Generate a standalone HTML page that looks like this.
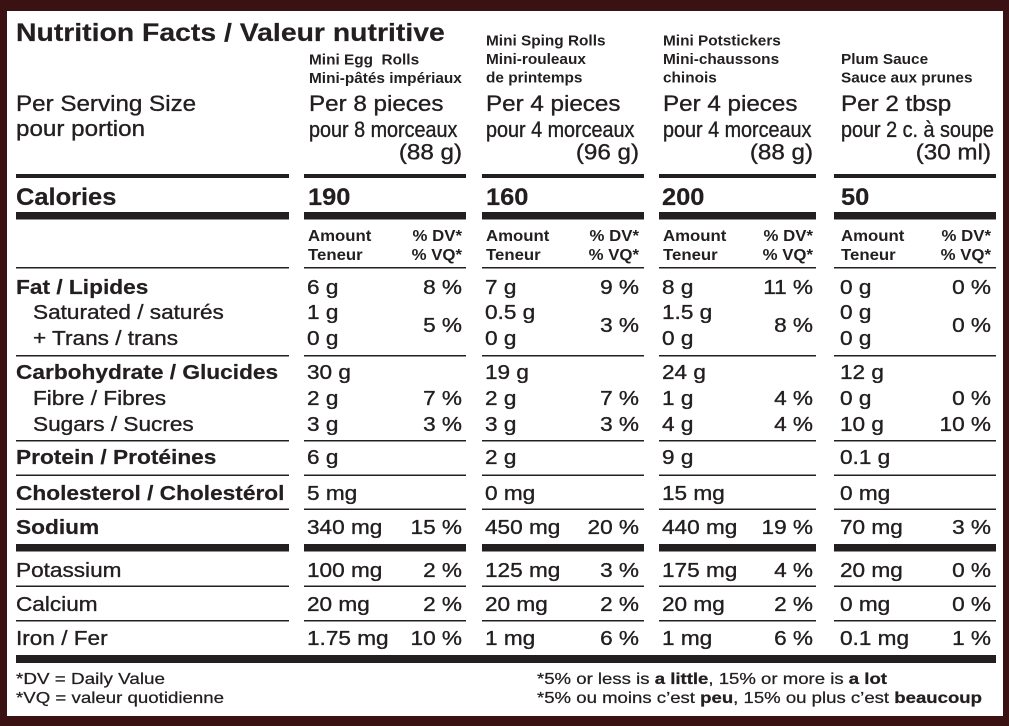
<!DOCTYPE html>
<html><head><meta charset="utf-8"><style>
html,body{margin:0;padding:0;background:#3a1214;}
svg{display:block}
text{font-family:"Liberation Sans",Arial,sans-serif;fill:#231f20;white-space:pre}
.t{font-size:25px;font-weight:bold;stroke:#231f20;stroke-width:0.2}
.h{font-size:14.5px;font-weight:bold}
.p{font-size:22px;stroke:#231f20;stroke-width:0.35}
.c{font-size:24px;font-weight:bold;stroke:#231f20;stroke-width:0.2}
.a{font-size:16px;font-weight:bold}
.lb{font-size:20px;font-weight:bold;stroke:#231f20;stroke-width:0.2}
.r{font-size:20px;stroke:#231f20;stroke-width:0.35}
.f{font-size:16px;stroke:#231f20;stroke-width:0.25}
.e{text-anchor:end}
</style></head><body>
<svg width="1009" height="726" viewBox="0 0 1009 726" xmlns="http://www.w3.org/2000/svg">
<rect x="0" y="0" width="1009" height="726" fill="#3a1214"/>
<rect x="7" y="11" width="996" height="705" fill="#ffffff"/>

<!-- Title -->
<text class="t" transform="translate(16,41) scale(1.135,1)">Nutrition Facts / Valeur nutritive</text>

<!-- Column names -->
<text class="h" transform="translate(309,64.5) scale(1.06,1)">Mini Egg  Rolls</text>
<text class="h" transform="translate(309,83) scale(1.06,1)">Mini-pâtés impériaux</text>
<text class="h" transform="translate(486,45.5) scale(1.06,1)">Mini Sping Rolls</text>
<text class="h" transform="translate(486,64) scale(1.06,1)">Mini-rouleaux</text>
<text class="h" transform="translate(486,82.5) scale(1.06,1)">de printemps</text>
<text class="h" transform="translate(663,45.5) scale(1.06,1)">Mini Potstickers</text>
<text class="h" transform="translate(663,64) scale(1.06,1)">Mini-chaussons</text>
<text class="h" transform="translate(663,82.5) scale(1.06,1)">chinois</text>
<text class="h" transform="translate(841,64) scale(1.06,1)">Plum Sauce</text>
<text class="h" transform="translate(841,82.5) scale(1.06,1)">Sauce aux prunes</text>

<!-- Serving -->
<text class="p" transform="translate(16,111) scale(1.1,1)">Per Serving Size</text>
<text class="p" transform="translate(16,136) scale(1.1,1)">pour portion</text>

<text class="p" transform="translate(309,111) scale(1.1,1)">Per 8 pieces</text>
<text class="p" transform="translate(309,137) scale(0.9,1)">pour 8 morceaux</text>
<text class="p e" transform="translate(462,159.5) scale(1.1,1)">(88 g)</text>

<text class="p" transform="translate(486,111) scale(1.1,1)">Per 4 pieces</text>
<text class="p" transform="translate(486,137) scale(0.9,1)">pour 4 morceaux</text>
<text class="p e" transform="translate(639,159.5) scale(1.1,1)">(96 g)</text>

<text class="p" transform="translate(663,111) scale(1.1,1)">Per 4 pieces</text>
<text class="p" transform="translate(663,137) scale(0.9,1)">pour 4 morceaux</text>
<text class="p e" transform="translate(813,159.5) scale(1.1,1)">(88 g)</text>

<text class="p" transform="translate(841,111) scale(1.1,1)">Per 2 tbsp</text>
<text class="p" transform="translate(841,137) scale(0.9,1)">pour 2 c. à soupe</text>
<text class="p e" transform="translate(991,159.5) scale(1.1,1)">(30 ml)</text>

<!-- Lines -->
<g fill="#231f20">
<rect x="16" y="174" width="273" height="4"/><rect x="304" y="174" width="162" height="4"/><rect x="482" y="174" width="162" height="4"/><rect x="659" y="174" width="157" height="4"/><rect x="834" y="174" width="162" height="4"/>
<rect x="16" y="212" width="273" height="7.5"/><rect x="304" y="212" width="162" height="7.5"/><rect x="482" y="212" width="162" height="7.5"/><rect x="659" y="212" width="157" height="7.5"/><rect x="834" y="212" width="162" height="7.5"/>
<rect x="16" y="267" width="273" height="1.5"/><rect x="304" y="267" width="162" height="1.5"/><rect x="482" y="267" width="162" height="1.5"/><rect x="659" y="267" width="157" height="1.5"/><rect x="834" y="267" width="162" height="1.5"/>
<rect x="16" y="355" width="273" height="1.5"/><rect x="304" y="355" width="162" height="1.5"/><rect x="482" y="355" width="162" height="1.5"/><rect x="659" y="355" width="157" height="1.5"/><rect x="834" y="355" width="162" height="1.5"/>
<rect x="16" y="440" width="273" height="1.5"/><rect x="304" y="440" width="162" height="1.5"/><rect x="482" y="440" width="162" height="1.5"/><rect x="659" y="440" width="157" height="1.5"/><rect x="834" y="440" width="162" height="1.5"/>
<rect x="16" y="474.5" width="273" height="1.5"/><rect x="304" y="474.5" width="162" height="1.5"/><rect x="482" y="474.5" width="162" height="1.5"/><rect x="659" y="474.5" width="157" height="1.5"/><rect x="834" y="474.5" width="162" height="1.5"/>
<rect x="16" y="508.5" width="273" height="1.5"/><rect x="304" y="508.5" width="162" height="1.5"/><rect x="482" y="508.5" width="162" height="1.5"/><rect x="659" y="508.5" width="157" height="1.5"/><rect x="834" y="508.5" width="162" height="1.5"/>
<rect x="16" y="544" width="273" height="7.5"/><rect x="304" y="544" width="162" height="7.5"/><rect x="482" y="544" width="162" height="7.5"/><rect x="659" y="544" width="157" height="7.5"/><rect x="834" y="544" width="162" height="7.5"/>
<rect x="16" y="585.5" width="273" height="1.5"/><rect x="304" y="585.5" width="162" height="1.5"/><rect x="482" y="585.5" width="162" height="1.5"/><rect x="659" y="585.5" width="157" height="1.5"/><rect x="834" y="585.5" width="162" height="1.5"/>
<rect x="16" y="620" width="273" height="1.5"/><rect x="304" y="620" width="162" height="1.5"/><rect x="482" y="620" width="162" height="1.5"/><rect x="659" y="620" width="157" height="1.5"/><rect x="834" y="620" width="162" height="1.5"/>
<rect x="16" y="655" width="980" height="8"/>
</g>

<!-- Calories -->
<text class="c" transform="translate(16,205) scale(1.06,1)">Calories</text>
<text class="c" transform="translate(308,205) scale(1.06,1)">190</text>
<text class="c" transform="translate(486,205) scale(1.06,1)">160</text>
<text class="c" transform="translate(662,205) scale(1.06,1)">200</text>
<text class="c" transform="translate(841,205) scale(1.06,1)">50</text>

<!-- Amount headers -->
<text class="a" transform="translate(308,241) scale(1.05,1)">Amount</text>
<text class="a" transform="translate(308,260) scale(1.05,1)">Teneur</text>
<text class="a e" transform="translate(462,241) scale(1.05,1)">% DV*</text>
<text class="a e" transform="translate(462,260) scale(1.05,1)">% VQ*</text>
<text class="a" transform="translate(486,241) scale(1.05,1)">Amount</text>
<text class="a" transform="translate(486,260) scale(1.05,1)">Teneur</text>
<text class="a e" transform="translate(639,241) scale(1.05,1)">% DV*</text>
<text class="a e" transform="translate(639,260) scale(1.05,1)">% VQ*</text>
<text class="a" transform="translate(663,241) scale(1.05,1)">Amount</text>
<text class="a" transform="translate(663,260) scale(1.05,1)">Teneur</text>
<text class="a e" transform="translate(813,241) scale(1.05,1)">% DV*</text>
<text class="a e" transform="translate(813,260) scale(1.05,1)">% VQ*</text>
<text class="a" transform="translate(841,241) scale(1.05,1)">Amount</text>
<text class="a" transform="translate(841,260) scale(1.05,1)">Teneur</text>
<text class="a e" transform="translate(991,241) scale(1.05,1)">% DV*</text>
<text class="a e" transform="translate(991,260) scale(1.05,1)">% VQ*</text>

<!-- Labels -->
<text class="lb" transform="translate(16,294) scale(1.135,1)">Fat / Lipides</text>
<text class="r" transform="translate(33,319) scale(1.13,1)">Saturated / saturés</text>
<text class="r" transform="translate(33,345) scale(1.13,1)">+ Trans / trans</text>
<text class="lb" transform="translate(16,379) scale(1.135,1)">Carbohydrate / Glucides</text>
<text class="r" transform="translate(33,405) scale(1.13,1)">Fibre / Fibres</text>
<text class="r" transform="translate(33,431) scale(1.13,1)">Sugars / Sucres</text>
<text class="lb" transform="translate(16,464) scale(1.135,1)">Protein / Protéines</text>
<text class="lb" transform="translate(16,500) scale(1.135,1)">Cholesterol / Cholestérol</text>
<text class="lb" transform="translate(16,534) scale(1.135,1)">Sodium</text>
<text class="r" transform="translate(16,577) scale(1.13,1)">Potassium</text>
<text class="r" transform="translate(16,611) scale(1.13,1)">Calcium</text>
<text class="r" transform="translate(16,645) scale(1.13,1)">Iron / Fer</text>

<!-- Column 1 values -->
<g>
<text class="r" transform="translate(307,294) scale(1.13,1)">6 g</text>
<text class="r e" transform="translate(462,294) scale(1.13,1)">8 %</text>
<text class="r" transform="translate(307,319) scale(1.13,1)">1 g</text>
<text class="r" transform="translate(307,345) scale(1.13,1)">0 g</text>
<text class="r e" transform="translate(462,332) scale(1.13,1)">5 %</text>
<text class="r" transform="translate(307,379) scale(1.13,1)">30 g</text>
<text class="r" transform="translate(307,405) scale(1.13,1)">2 g</text>
<text class="r e" transform="translate(462,405) scale(1.13,1)">7 %</text>
<text class="r" transform="translate(307,431) scale(1.13,1)">3 g</text>
<text class="r e" transform="translate(462,431) scale(1.13,1)">3 %</text>
<text class="r" transform="translate(307,464) scale(1.13,1)">6 g</text>
<text class="r" transform="translate(307,500) scale(1.13,1)">5 mg</text>
<text class="r" transform="translate(307,534) scale(1.13,1)">340 mg</text>
<text class="r e" transform="translate(462,534) scale(1.13,1)">15 %</text>
<text class="r" transform="translate(307,577) scale(1.13,1)">100 mg</text>
<text class="r e" transform="translate(462,577) scale(1.13,1)">2 %</text>
<text class="r" transform="translate(307,611) scale(1.13,1)">20 mg</text>
<text class="r e" transform="translate(462,611) scale(1.13,1)">2 %</text>
<text class="r" transform="translate(307,645) scale(1.13,1)">1.75 mg</text>
<text class="r e" transform="translate(462,645) scale(1.13,1)">10 %</text>
</g>

<!-- Column 2 values -->
<g>
<text class="r" transform="translate(485,294) scale(1.13,1)">7 g</text>
<text class="r e" transform="translate(639,294) scale(1.13,1)">9 %</text>
<text class="r" transform="translate(485,319) scale(1.13,1)">0.5 g</text>
<text class="r" transform="translate(485,345) scale(1.13,1)">0 g</text>
<text class="r e" transform="translate(639,332) scale(1.13,1)">3 %</text>
<text class="r" transform="translate(485,379) scale(1.13,1)">19 g</text>
<text class="r" transform="translate(485,405) scale(1.13,1)">2 g</text>
<text class="r e" transform="translate(639,405) scale(1.13,1)">7 %</text>
<text class="r" transform="translate(485,431) scale(1.13,1)">3 g</text>
<text class="r e" transform="translate(639,431) scale(1.13,1)">3 %</text>
<text class="r" transform="translate(485,464) scale(1.13,1)">2 g</text>
<text class="r" transform="translate(485,500) scale(1.13,1)">0 mg</text>
<text class="r" transform="translate(485,534) scale(1.13,1)">450 mg</text>
<text class="r e" transform="translate(639,534) scale(1.13,1)">20 %</text>
<text class="r" transform="translate(485,577) scale(1.13,1)">125 mg</text>
<text class="r e" transform="translate(639,577) scale(1.13,1)">3 %</text>
<text class="r" transform="translate(485,611) scale(1.13,1)">20 mg</text>
<text class="r e" transform="translate(639,611) scale(1.13,1)">2 %</text>
<text class="r" transform="translate(485,645) scale(1.13,1)">1 mg</text>
<text class="r e" transform="translate(639,645) scale(1.13,1)">6 %</text>
</g>

<!-- Column 3 values -->
<g>
<text class="r" transform="translate(662,294) scale(1.13,1)">8 g</text>
<text class="r e" transform="translate(813,294) scale(1.13,1)">11 %</text>
<text class="r" transform="translate(662,319) scale(1.13,1)">1.5 g</text>
<text class="r" transform="translate(662,345) scale(1.13,1)">0 g</text>
<text class="r e" transform="translate(813,332) scale(1.13,1)">8 %</text>
<text class="r" transform="translate(662,379) scale(1.13,1)">24 g</text>
<text class="r" transform="translate(662,405) scale(1.13,1)">1 g</text>
<text class="r e" transform="translate(813,405) scale(1.13,1)">4 %</text>
<text class="r" transform="translate(662,431) scale(1.13,1)">4 g</text>
<text class="r e" transform="translate(813,431) scale(1.13,1)">4 %</text>
<text class="r" transform="translate(662,464) scale(1.13,1)">9 g</text>
<text class="r" transform="translate(662,500) scale(1.13,1)">15 mg</text>
<text class="r" transform="translate(662,534) scale(1.13,1)">440 mg</text>
<text class="r e" transform="translate(813,534) scale(1.13,1)">19 %</text>
<text class="r" transform="translate(662,577) scale(1.13,1)">175 mg</text>
<text class="r e" transform="translate(813,577) scale(1.13,1)">4 %</text>
<text class="r" transform="translate(662,611) scale(1.13,1)">20 mg</text>
<text class="r e" transform="translate(813,611) scale(1.13,1)">2 %</text>
<text class="r" transform="translate(662,645) scale(1.13,1)">1 mg</text>
<text class="r e" transform="translate(813,645) scale(1.13,1)">6 %</text>
</g>

<!-- Column 4 values -->
<g>
<text class="r" transform="translate(840,294) scale(1.13,1)">0 g</text>
<text class="r e" transform="translate(991,294) scale(1.13,1)">0 %</text>
<text class="r" transform="translate(840,319) scale(1.13,1)">0 g</text>
<text class="r" transform="translate(840,345) scale(1.13,1)">0 g</text>
<text class="r e" transform="translate(991,332) scale(1.13,1)">0 %</text>
<text class="r" transform="translate(840,379) scale(1.13,1)">12 g</text>
<text class="r" transform="translate(840,405) scale(1.13,1)">0 g</text>
<text class="r e" transform="translate(991,405) scale(1.13,1)">0 %</text>
<text class="r" transform="translate(840,431) scale(1.13,1)">10 g</text>
<text class="r e" transform="translate(991,431) scale(1.13,1)">10 %</text>
<text class="r" transform="translate(840,464) scale(1.13,1)">0.1 g</text>
<text class="r" transform="translate(840,500) scale(1.13,1)">0 mg</text>
<text class="r" transform="translate(840,534) scale(1.13,1)">70 mg</text>
<text class="r e" transform="translate(991,534) scale(1.13,1)">3 %</text>
<text class="r" transform="translate(840,577) scale(1.13,1)">20 mg</text>
<text class="r e" transform="translate(991,577) scale(1.13,1)">0 %</text>
<text class="r" transform="translate(840,611) scale(1.13,1)">0 mg</text>
<text class="r e" transform="translate(991,611) scale(1.13,1)">0 %</text>
<text class="r" transform="translate(840,645) scale(1.13,1)">0.1 mg</text>
<text class="r e" transform="translate(991,645) scale(1.13,1)">1 %</text>
</g>

<!-- Footer -->
<text class="f" x="16" y="684" textLength="149" lengthAdjust="spacingAndGlyphs">*DV = Daily Value</text>
<text class="f" x="16" y="703" textLength="208" lengthAdjust="spacingAndGlyphs">*VQ = valeur quotidienne</text>
<text class="f" x="537" y="684" textLength="350" lengthAdjust="spacingAndGlyphs">*5% or less is <tspan font-weight="bold">a little</tspan>, 15% or more is <tspan font-weight="bold">a lot</tspan></text>
<text class="f" x="537" y="703" textLength="445" lengthAdjust="spacingAndGlyphs">*5% ou moins c’est <tspan font-weight="bold">peu</tspan>, 15% ou plus c’est <tspan font-weight="bold">beaucoup</tspan></text>
</svg>
</body></html>
